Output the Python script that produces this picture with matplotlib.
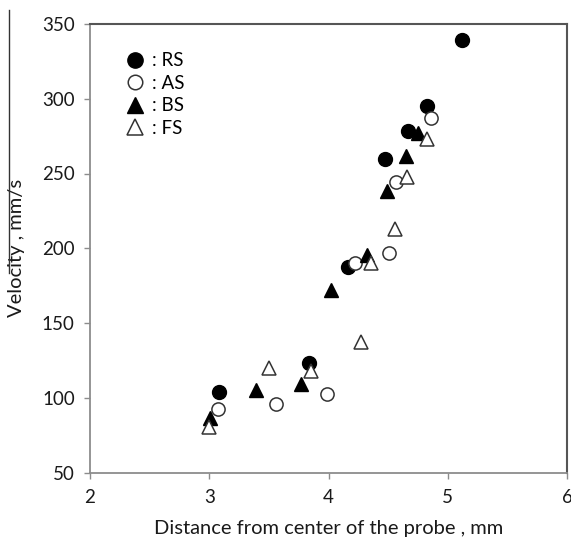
import matplotlib
matplotlib.use("Agg")
import matplotlib.pyplot as plt
from matplotlib.lines import Line2D

plt.rcParams['font.family'] = ['Lato', 'DejaVu Sans']

# dados
rs_x = [3.08, 3.84, 4.16, 4.47, 4.67, 4.83, 5.12]
rs_y = [103.7, 123.5, 187.7, 260.0, 278.6, 295.4, 339.2]

as_x = [3.07, 3.56, 3.99, 4.22, 4.51, 4.57, 4.86]
as_y = [92.3, 95.7, 102.6, 189.8, 197.1, 244.0, 287.3]

bs_x = [3.01, 3.39, 3.77, 4.02, 4.32, 4.49, 4.65, 4.75]
bs_y = [86.5, 105.1, 109.0, 172.1, 195.8, 238.5, 261.6, 277.2]

fs_x = [3.00, 3.50, 3.85, 4.27, 4.36, 4.56, 4.66, 4.83]
fs_y = [80.3, 119.8, 118.2, 137.2, 190.0, 213.0, 247.9, 273.1]

x_ticks = [2, 3, 4, 5, 6]
y_ticks = [50, 100, 150, 200, 250, 300, 350]

fig = plt.figure(figsize=(5.71, 5.39), dpi=100)
ax = fig.add_axes([90/571, 1-472.5/539, 477/571, 448.5/539])

ax.plot(rs_x, rs_y, 'o', ms=10, mfc='black', mec='black', ls='none', label=': RS')
ax.plot(as_x, as_y, 'o', ms=9.5, mfc='white', mec='#333333', mew=1.1, ls='none', label=': AS')
ax.plot(bs_x, bs_y, '^', ms=10, mfc='black', mec='black', ls='none', label=': BS')
ax.plot(fs_x, fs_y, '^', ms=10, mfc='white', mec='#333333', mew=1.1, ls='none', label=': FS')

ax.set_xlim(2, 6)
ax.set_ylim(50, 350)
ax.set_xticks(x_ticks)
ax.set_yticks(y_ticks)

for s in ['left', 'bottom']:
    ax.spines[s].set_color('#8c8c8c')
    ax.spines[s].set_linewidth(1.3)
for s in ['top', 'right']:
    ax.spines[s].set_color('#555555')
    ax.spines[s].set_linewidth(1.5)

ax.tick_params(direction='out', length=4, width=1, color='#8c8c8c',
               labelsize=13.5, labelcolor='#1a1a1a')
ax.tick_params(axis='x', pad=8)
ax.tick_params(axis='y', pad=7)

ax.set_xlabel('Distance from center of the probe , mm', fontsize=14.5, color='#1a1a1a', labelpad=10)
ax.set_ylabel('Velocity , mm/s', fontsize=14.5, color='#1a1a1a', labelpad=12)

ax.legend(loc='upper left', bbox_to_anchor=(0.058, 0.954), frameon=False,
          handletextpad=0.35, labelspacing=0.3, handlelength=1.1,
          fontsize=13.5, borderaxespad=0, markerscale=1.1)

# linha vertical que aparece na margem esquerda da imagem original
fig.add_artist(Line2D([9/571, 9/571], [1-10/539, 1-273/539], color='#333333', lw=1))

fig.savefig('out.png', dpi=100)
